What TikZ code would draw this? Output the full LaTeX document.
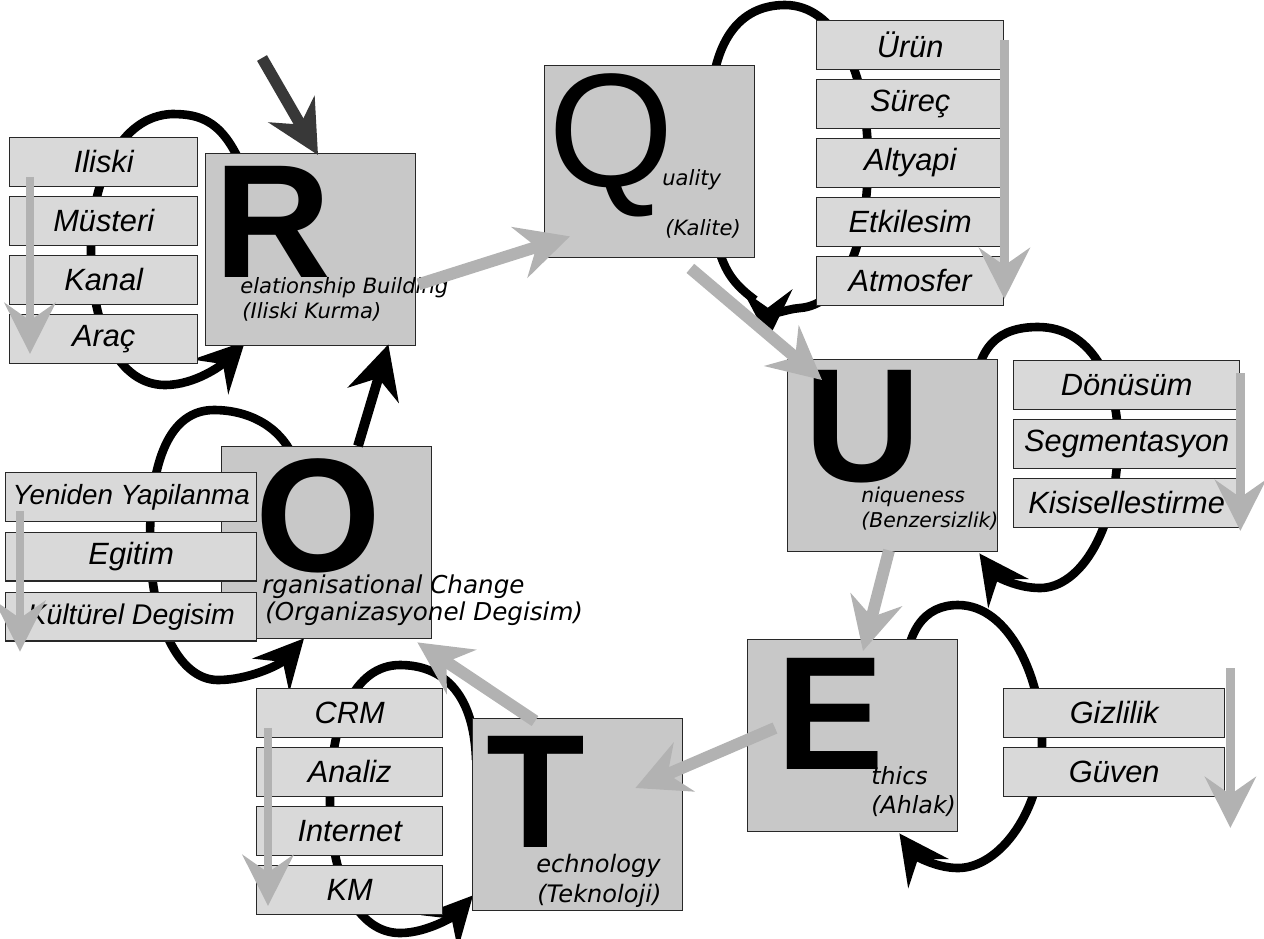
\documentclass[tikz,border=0pt]{standalone}
\usepackage{fontspec}
\setmainfont{Liberation Sans}
\newfontfamily\subfont{DejaVu Sans}
\usetikzlibrary{arrows.meta,calc,positioning}
\definecolor{boxfill}{RGB}{200,200,200}
\definecolor{itemfill}{RGB}{217,217,217}
\definecolor{boxline}{RGB}{40,40,40}
\definecolor{flowgray}{RGB}{178,178,178}
\definecolor{darkflow}{RGB}{56,56,56}
\pgfdeclarelayer{bg}
\pgfsetlayers{bg,main}
\tikzset{
  letterbox/.style={draw=boxline, line width=0.8pt, fill=boxfill, anchor=north west,
    inner sep=0, minimum width=4.2cm, minimum height=3.84cm},
  itembox/.style={draw=boxline, line width=0.8pt, fill=itemfill, anchor=north west,
    inner sep=0, minimum width=#1*0.02cm, minimum height=0.97cm,
    font=\fontsize{17.5}{20}\selectfont\itshape},
  bigletter/.style={anchor=base west, inner sep=0, text depth=0pt,
    font=\fontsize{92}{92}\selectfont\bfseries},
  subtext/.style={anchor=base west, inner sep=0, font=\subfont\itshape\fontsize{#1}{#1}\selectfont},
  loopline/.style={line width=4.9pt, -{Stealth[length=28pt,width=28pt,inset=10pt]}},
  boxflow/.style={draw=flowgray, line width=6.8pt, -{Stealth[length=30pt,width=30pt,inset=10pt]}},
  itemflow/.style={draw=flowgray, line width=5pt, -{Stealth[length=29pt,width=29pt,inset=10pt]}},
}
\begin{document}
\begin{tikzpicture}[x=0.02cm, y=-0.02cm]
    \useasboundingbox (0,0) rectangle (1264,938);
    % letter boxes
    \node[letterbox] (rbox) at (205,153) {};
    \node[letterbox] (qbox) at (544,65) {};
    \node[letterbox] (ubox) at (787,359) {};
    \node[letterbox] (ebox) at (747,639) {};
    \node[letterbox] (tbox) at (472,718) {};
    \node[letterbox] (obox) at (221,446) {};
    % item columns
    \foreach \t [count=\i] in {Iliski,Müsteri,Kanal,Araç}
        \node[itembox=188] (r\i) at (9,{137+59*(\i-1)}) {\t};
    \foreach \t [count=\i] in {Ürün,Süreç,Altyapi,Etkilesim,Atmosfer}
        \node[itembox=187] (q\i) at (816,{20+59*(\i-1)}) {\t};
    \foreach \t [count=\i] in {Dönüsüm,Segmentasyon,Kisisellestirme}
        \node[itembox=226] (u\i) at (1013,{360+59*(\i-1)}) {\t};
    \foreach \t [count=\i] in {Gizlilik,Güven}
        \node[itembox=221] (e\i) at (1003,{688+59*(\i-1)}) {\t};
    \foreach \t [count=\i] in {CRM,Analiz,Internet,KM}
        \node[itembox=186] (t\i) at (256,{688+59*(\i-1)}) {\t};
    \node[itembox=251] (o1) at (5,472) {\fontsize{15.8}{18}\selectfont Yeniden Yapilanma};
    \node[itembox=251, below=0.2cm of o1] (o2) {Egitim};
    \node[itembox=251, below=0.2cm of o2] (o3) {\fontsize{16.2}{18}\selectfont Kültürel Degisim};
    % subtitles
    \node[subtext=12] (rs1) at (240,293) {elationship Building};
    \node[subtext=12] (rs2) at (242,318) {(Iliski Kurma)};
    \node[subtext=12] (qs1) at (662,185) {uality};
    \node[subtext=12] (qs2) at (665,235) {(Kalite)};
    \node[subtext=11.6] (us1) at (861,502) {niqueness};
    \node[subtext=11.6] (us2) at (861,527) {(Benzersizlik)};
    \node[subtext=13.5] (es1) at (871,784) {thics};
    \node[subtext=13.5] (es2) at (871,813) {(Ahlak)};
    \node[subtext=13.7] (ts1) at (536,872) {echnology};
    \node[subtext=13.7] (ts2) at (537,902) {(Teknoloji)};
    \node[subtext=14] (os1) at (262,593) {rganisational Change};
    \node[subtext=14] (os2) at (265,620) {(Organizasyonel Degisim)};
    % big letters
    \node[bigletter] (rl) at (214,277) {R};
    \node[bigletter, font=\fontsize{92}{92}\selectfont] (ql) at (548,186) {Q};
    \node[bigletter] (ul) at (804,481) {U};
    \node[bigletter] (el) at (776,769) {E};
    \node[bigletter] (tl) at (486,847) {T};
    \node[bigletter] (ol) at (255,571) {O};
    % loops behind the boxes
    \begin{pgfonlayer}{bg}
    \draw[loopline] (245,175) .. controls (225,120) and (200,114) .. (172,114)
        .. controls (120,116) and (91,180) .. (91,250) .. controls (91,330) and (120,385) .. (165,385)
        .. controls (195,385) and (222,365) .. ($(rbox.south west)+(40,-5)$);
    \draw[loopline] (755,300) .. controls (722,275) and (708,255) .. (710,120)
        .. controls (710,40) and (740,5) .. (785,5) .. controls (835,5) and (868,70) .. (868,160)
        .. controls (868,250) and (840,305) .. (800,308)
        .. controls (785,309) and (768,318) .. ($(qbox.south east)+(13,81)$);
    \draw[loopline] (975,400) .. controls (975,345) and (1000,327) .. (1038,327)
        .. controls (1090,327) and (1118,380) .. (1118,440) .. controls (1118,530) and (1080,588) .. (1040,588)
        .. controls (1015,588) and (995,575) .. ($(ubox.south east)+(-19,1)$);
    \draw[loopline] (905,690) .. controls (903,630) and (925,605) .. (958,605)
        .. controls (1010,605) and (1042,680) .. (1042,742) .. controls (1042,810) and (1000,868) .. (958,868)
        .. controls (935,868) and (915,855) .. ($(ebox.south east)+(-59,1)$);
    \draw[loopline] (476,760) .. controls (474,690) and (440,665) .. (400,665)
        .. controls (355,665) and (330,720) .. (330,800) .. controls (330,880) and (358,933) .. (400,933)
        .. controls (428,933) and (455,915) .. ($(tbox.south west)+(1,-16)$);
    \draw[loopline] (300,480) .. controls (292,430) and (252,410) .. (214,410)
        .. controls (170,410) and (150,460) .. (150,540) .. controls (150,620) and (178,680) .. (218,680)
        .. controls (248,680) and (280,665) .. ($(obox.south west)+(83,-1)$);
    \end{pgfonlayer}
    % downward arrows along the item columns
    \draw[itemflow] ($(r1.west)+(21,15)$) -- ($(r4.south west)+(21,-10)$);
    \draw[itemflow] ($(q1.north east)+(0,20)$) -- ($(q5.south east)+(0,-7)$);
    \draw[itemflow] ($(u1.north east)+(0,13)$) -- ($(u3.south east)+(0,3)$);
    \draw[itemflow] ($(e1.north east)+(5,-20)$) -- ($(e2.south east)+(5,31)$);
    \draw[itemflow] ($(t1.west)+(12,15)$) -- ($(t4.south west)+(12,-9)$);
    \draw[itemflow] ($(o1.west)+(15,14)$) -- ($(o3.south west)+(15,10)$);
    % flow between the letters
    \coordinate (rin) at (262,58);
    \draw[boxflow, draw=darkflow, line width=6.5pt] (rin) -- ($(rbox.north west)+(113,2)$);
    \draw[boxflow] ($(rbox.south east)+(2,-62)$) -- ($(qbox.south west)+(26,-22)$);
    \draw[boxflow] ($(qbox.south east)+(-65,10)$) -- ($(ubox.north west)+(35,21)$);
    \draw[boxflow] ($(ubox.south west)+(102,-2)$) -- ($(ebox.north west)+(116,12)$);
    \draw[boxflow] ($(ebox.north west)+(28,89)$) -- ($(tbox.north east)+(-48,70)$);
    \draw[boxflow] ($(tbox.north west)+(63,3)$) -- ($(obox.south east)+(-15,3)$);
    \draw[boxflow, draw=black, line width=5.6pt] ($(obox.north west)+(137,0)$) -- ($(rbox.south east)+(-28,-2)$);
\end{tikzpicture}
\end{document}
